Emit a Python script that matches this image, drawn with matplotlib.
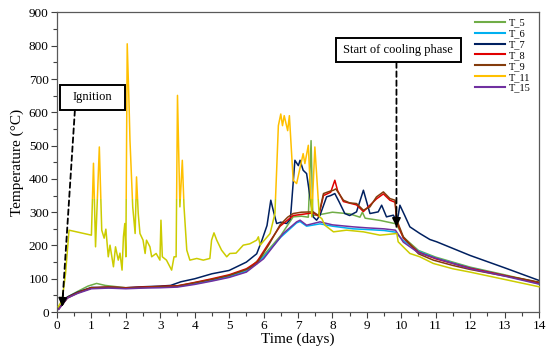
import matplotlib
matplotlib.use("Agg")
import matplotlib.pyplot as plt
from matplotlib.patches import Rectangle
from matplotlib.lines import Line2D

plt.rcParams['font.family'] = ['Liberation Serif', 'DejaVu Serif']

# ---------------- data ----------------
series_names = ["T_5", "T_6", "T_7", "T_8", "T_9", "T_11", "T_15"]
series_colors = ["#70AD47", "#00B0F0", "#002060", "#E00000", "#843C0C", "#FFC000", "#7030A0"]
t11_low_color = "#CCCC00"

t5 = [0.05, 0.15, 0.3, 0.6, 0.9, 1.15, 1.4, 2.0, 2.5, 3.0, 3.5, 4.0, 4.5, 5.0, 5.5, 6.0, 6.5, 6.86, 7.1, 7.3, 7.38, 7.43, 7.6, 8.0, 8.5, 8.8, 8.87, 8.95, 9.4, 9.85, 10.06, 10.5, 11.0, 12.0, 13.0, 14.0]
v5 = [10, 25, 45, 62, 78, 86, 80, 73, 74, 76, 78, 86, 96, 108, 125, 170, 230, 286, 288, 285, 515, 290, 292, 300, 295, 285, 300, 282, 275, 265, 225, 185, 165, 135, 112, 88]

t6 = [0.05, 0.15, 0.3, 0.6, 1.0, 1.5, 2.0, 2.5, 3.0, 3.5, 4.0, 4.5, 5.0, 5.5, 6.0, 6.5, 6.96, 7.06, 7.25, 7.64, 8.0, 8.6, 9.0, 9.5, 9.83, 10.06, 10.5, 11.0, 12.0, 13.0, 14.0]
v6 = [10, 24, 44, 58, 72, 74, 72, 74, 75, 77, 85, 95, 106, 122, 165, 225, 268, 272, 258, 265, 258, 250, 248, 245, 240, 215, 183, 162, 133, 110, 85]

t7 = [0.05, 0.15, 0.3, 0.6, 1.0, 1.5, 2.0, 2.5, 3.0, 3.3, 3.6, 4.0, 4.5, 5.0, 5.5, 5.8, 5.95, 6.1, 6.21, 6.28, 6.38, 6.5, 6.67, 6.78, 6.91, 7.01, 7.06, 7.15, 7.25, 7.35, 7.44, 7.54, 7.64, 7.83, 7.95, 8.07, 8.2, 8.36, 8.5, 8.7, 8.9, 9.09, 9.33, 9.43, 9.57, 9.77, 9.88, 9.96, 10.1, 10.25, 10.54, 10.83, 11.03, 12.0, 13.0, 14.0]
v7 = [10, 25, 45, 60, 74, 74, 73, 76, 78, 80, 91, 100, 115, 125, 150, 175, 215, 260, 336, 306, 266, 270, 266, 280, 456, 440, 456, 426, 416, 346, 286, 276, 291, 346, 350, 356, 330, 296, 290, 301, 366, 296, 301, 321, 286, 291, 271, 321, 290, 256, 236, 218, 211, 170, 133, 95]

t8 = [0.05, 0.15, 0.3, 0.6, 1.0, 1.5, 2.0, 2.5, 3.0, 3.5, 4.0, 4.5, 5.0, 5.5, 5.8, 6.14, 6.48, 6.86, 7.44, 7.6, 7.74, 7.95, 8.07, 8.15, 8.32, 8.7, 8.9, 9.28, 9.48, 9.67, 9.82, 9.87, 10.06, 10.5, 11.0, 12.0, 13.0, 14.0]
v8 = [10, 22, 43, 58, 73, 75, 73, 75, 77, 79, 89, 100, 112, 130, 150, 205, 258, 290, 298, 288, 350, 360, 396, 365, 332, 322, 302, 340, 355, 336, 330, 270, 222, 180, 160, 132, 110, 88]

t9 = [0.05, 0.15, 0.3, 0.6, 1.0, 1.5, 2.0, 2.5, 3.0, 3.5, 4.0, 4.5, 5.0, 5.5, 5.8, 6.14, 6.48, 6.7, 6.86, 7.1, 7.44, 7.6, 7.74, 7.9, 8.03, 8.1, 8.32, 8.5, 8.7, 8.9, 9.09, 9.28, 9.48, 9.67, 9.82, 9.87, 10.06, 10.5, 10.93, 11.5, 12.0, 12.87, 13.5, 14.0]
v9 = [10, 22, 42, 58, 72, 75, 72, 74, 76, 78, 88, 98, 110, 128, 145, 200, 262, 285, 296, 300, 301, 290, 356, 362, 366, 370, 336, 328, 326, 306, 316, 346, 361, 341, 336, 276, 226, 175, 156, 140, 128, 111, 100, 90]

t11 = [0.04, 0.15, 0.25, 0.35, 1.0, 1.06, 1.12, 1.23, 1.3, 1.37, 1.42, 1.49, 1.54, 1.64, 1.7, 1.78, 1.83, 1.89, 1.93, 1.97, 2.0, 2.04, 2.09, 2.12, 2.2, 2.27, 2.31, 2.36, 2.41, 2.5, 2.56, 2.6, 2.7, 2.75, 2.88, 2.99, 3.02, 3.06, 3.18, 3.28, 3.33, 3.4, 3.46, 3.5, 3.57, 3.64, 3.69, 3.77, 3.86, 4.06, 4.25, 4.44, 4.49, 4.56, 4.64, 4.78, 4.93, 5.02, 5.2, 5.41, 5.6, 5.8, 5.85, 5.9, 6.19, 6.33, 6.38, 6.43, 6.5, 6.55, 6.6, 6.7, 6.75, 6.86, 6.96, 7.15, 7.2, 7.3, 7.37, 7.4, 7.49, 7.54, 7.62, 7.69, 7.78, 8.03, 8.41, 8.9, 9.38, 9.87, 9.91, 10.25, 10.54, 10.93, 11.5, 12.0, 13.0, 14.0]
v11 = [16, 36, 117, 246, 231, 447, 196, 496, 246, 222, 249, 166, 201, 136, 196, 156, 177, 126, 226, 266, 166, 806, 636, 516, 316, 236, 406, 296, 236, 216, 176, 216, 196, 166, 176, 156, 276, 166, 156, 136, 126, 166, 166, 651, 316, 456, 316, 186, 156, 161, 156, 161, 216, 238, 216, 186, 166, 176, 177, 201, 205, 216, 226, 201, 236, 296, 426, 560, 595, 560, 590, 545, 590, 396, 386, 476, 446, 501, 346, 286, 496, 416, 286, 281, 261, 241, 246, 241, 231, 236, 211, 176, 166, 146, 130, 120, 98, 76]

t15 = [0.05, 0.15, 0.3, 0.6, 1.0, 1.5, 2.0, 2.5, 3.0, 3.5, 4.0, 4.5, 5.0, 5.5, 6.0, 6.57, 6.96, 7.06, 7.25, 7.64, 8.0, 8.6, 9.0, 9.5, 9.83, 10.06, 10.5, 11.12, 12.0, 13.0, 14.0]
v15 = [8, 22, 42, 56, 70, 72, 70, 72, 73, 75, 83, 93, 104, 120, 160, 236, 271, 276, 261, 271, 262, 256, 253, 250, 246, 210, 178, 158, 130, 108, 84]

t11_threshold = 340

x_ticks = list(range(0, 15))
y_ticks = list(range(0, 901, 100))

# ---------------- figure ----------------
fig = plt.figure(figsize=(5.5, 3.53), dpi=100)
ax = fig.add_axes([0.1036, 0.116, 0.8764, 0.8486])

times = [t5, t6, t7, t8, t9, None, t15]
vals = [v5, v6, v7, v8, v9, None, v15]
lw = 1.1
for name, col, tt, vv in zip(series_names, series_colors, times, vals):
    if tt is None:
        continue
    ax.plot(tt, vv, color=col, lw=lw, zorder=2)

# T_11: yellow-green where low, orange where high
lo, = ax.plot(t11, v11, color=t11_low_color, lw=lw, zorder=3)
hi, = ax.plot(t11, v11, color=series_colors[5], lw=lw, zorder=3)
clip_lo = Rectangle((-5, -1000), 30, 1000 + t11_threshold, transform=ax.transData)
clip_hi = Rectangle((-5, t11_threshold), 30, 2000, transform=ax.transData)
lo.set_clip_path(clip_lo)
hi.set_clip_path(clip_hi)

ax.set_xlim(0, 14)
ax.set_ylim(0, 900)
ax.set_xticks(x_ticks)
ax.set_yticks(y_ticks)
ax.set_xticks([x + 0.5 for x in x_ticks[:-1]], minor=True)
ax.set_yticks([y + 50 for y in y_ticks[:-1]], minor=True)
ax.tick_params(which='major', direction='out', length=4, width=0.8, labelsize=9.5, colors='#404040', labelcolor='black', pad=2)
ax.tick_params(which='minor', direction='out', length=3, width=0.8, colors='#404040')
for s in ax.spines.values():
    s.set_color('#595959')
    s.set_linewidth(0.9)

ax.set_xlabel("Time (days)", fontsize=11, labelpad=0)
ax.set_ylabel("Temperature (°C)", fontsize=11, labelpad=3)

# legend
handles = [Line2D([], [], color=c, lw=1.5) for c in series_colors]
leg = fig.legend(handles, series_names, loc='upper left', bbox_to_anchor=(468 / 550, 1 - 11 / 353),
                 frameon=False, fontsize=7.5, labelspacing=0.15, handlelength=2.9, handletextpad=0.3,
                 borderpad=0.2)

# annotations
dash_props = dict(arrowstyle='-', linestyle=(0, (3, 2)), color='black', lw=1.3, shrinkA=0, shrinkB=0)
head_props = dict(arrowstyle='-|>,head_length=0.5,head_width=0.25', color='black', lw=1.3, shrinkA=0, shrinkB=0)

# Ignition label box
ax.add_patch(Rectangle((0.087, 608), 1.888, 73, fc='white', ec='black', lw=1.4, zorder=6))
ax.text(1.03, 645, "Ignition", fontsize=9, ha='center', va='center', zorder=7)
ax.annotate("", xy=(0.15, 16), xytext=(0.52, 606), arrowprops=dash_props, zorder=5)
ax.annotate("", xy=(0.15, 16), xytext=(0.175, 56), arrowprops=head_props, zorder=5)

# Cooling label box
ax.add_patch(Rectangle((8.09, 751), 3.64, 73, fc='white', ec='black', lw=1.4, zorder=6))
ax.text(9.91, 788, "Start of cooling phase", fontsize=9, ha='center', va='center', zorder=7)
ax.annotate("", xy=(9.86, 256), xytext=(9.86, 750), arrowprops=dash_props, zorder=5)
ax.annotate("", xy=(9.86, 256), xytext=(9.86, 296), arrowprops=head_props, zorder=5)

fig.savefig("out.png", dpi=100)
